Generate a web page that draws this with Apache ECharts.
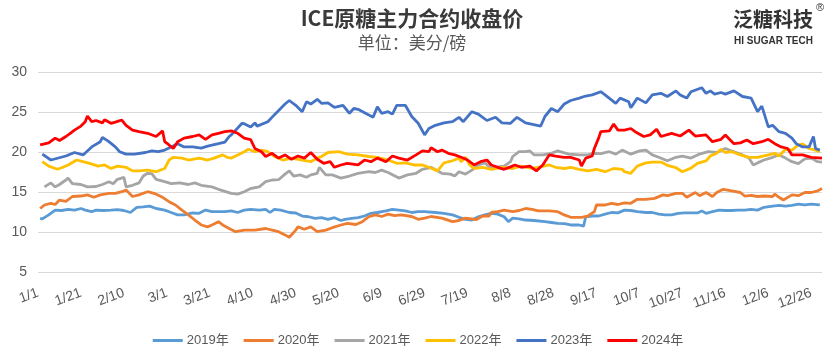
<!DOCTYPE html>
<html>
<head>
<meta charset="utf-8">
<script src="https://cdn.jsdelivr.net/npm/echarts@6/dist/echarts.min.js"></script>
<style>
html,body{margin:0;padding:0;background:#fff;}
#main{width:836px;height:364px;}
</style>
</head>
<body>
<div id="main"></div>
<script>
// x tick labels (every 20 days, leap-year calendar)
const tickLabels = ['1/1','1/21','2/10','3/1','3/21','4/10','4/30','5/20','6/9','6/29','7/19','8/8','8/28','9/17','10/7','10/27','11/16','12/6','12/26'];
const seriesNames = ['2019年','2020年','2021年','2022年','2023年','2024年'];

// day-of-year index / value pairs
const d19 = [1,2,5,8,11,14,17,20,22,25,27,30,34,37,40,43,46,49,52,55,59,62,65,68,72,75,78,81,84,87,90,93,96,99,103,106,108,110,113,117,120,123,126,129,132,135,138,141,143,146,149,152,155,158,162,165,168,171,174,177,180,185,189,193,196,199,202,205,208,211,214,217,219,221,224,227,231,236,239,242,245,248,252,254,255,258,261,264,267,270,273,276,279,283,286,289,292,295,298,301,304,307,309,311,314,317,320,323,326,329,332,335,338,342,345,348,351,354,357,360,364];
const v19 = [11.77,11.7,12.2,12.8,12.75,12.9,12.8,13.0,12.8,12.6,12.8,12.75,12.8,12.85,12.75,12.5,13.15,13.2,13.3,13.0,12.8,12.5,12.2,12.2,12.44,12.4,12.8,12.6,12.6,12.6,12.7,12.5,12.8,12.9,12.8,12.9,12.5,12.9,12.8,12.5,12.44,12.06,11.97,11.77,11.85,11.65,11.85,11.5,11.65,11.77,11.85,12.06,12.4,12.5,12.7,12.9,12.8,12.7,12.5,12.6,12.6,12.5,12.4,12.2,11.9,11.65,11.56,11.97,12.2,12.4,12.3,11.97,11.35,11.8,11.7,11.56,11.5,11.35,11.25,11.15,11.1,10.94,10.94,10.8,11.97,12.06,12.06,12.3,12.5,12.45,12.8,12.75,12.6,12.5,12.5,12.3,12.2,12.2,12.4,12.45,12.45,12.45,12.7,12.4,12.6,12.8,12.75,12.75,12.8,12.8,12.9,12.8,13.15,13.3,13.4,13.3,13.4,13.56,13.44,13.56,13.44];

const d20 = [1,3,6,8,10,13,16,20,23,26,29,33,36,39,41,44,47,51,54,58,61,64,67,70,73,76,79,81,84,86,89,92,96,101,106,109,112,115,117,120,121,124,127,130,134,137,141,144,148,151,154,157,160,163,166,169,174,177,180,183,188,193,196,199,202,204,207,210,211,214,217,221,224,227,230,233,238,242,245,248,253,256,259,260,264,267,270,273,276,279,283,287,291,293,297,300,302,306,308,311,314,316,319,323,327,329,332,335,338,342,343,345,347,351,354,357,360,363,365];
const v20 = [13.0,13.44,13.65,13.5,14.06,13.9,14.5,14.56,14.7,14.4,14.7,14.9,14.9,15.1,15.3,14.5,14.7,15.1,14.9,14.4,13.85,13.44,12.8,12.2,11.56,10.94,10.7,10.94,11.35,10.94,10.5,10.1,10.3,10.3,10.5,10.3,10.1,9.7,9.4,10.3,10.7,10.4,10.7,10.1,10.3,10.6,10.94,11.15,11.0,11.35,11.97,12.2,12.0,12.3,12.1,12.2,12.0,11.65,11.8,12.0,11.8,11.35,11.5,11.8,11.7,11.6,12.06,12.06,12.5,12.6,12.8,12.6,12.75,13.0,12.9,12.7,12.7,12.6,12.2,11.9,11.9,12.06,12.6,13.44,13.44,13.65,13.5,13.7,13.65,14.15,14.15,14.27,14.7,14.6,14.9,14.9,14.4,15.0,14.6,15.0,14.5,15.0,15.4,15.2,15.0,14.56,14.65,14.5,14.56,14.5,14.8,14.4,14.06,14.7,14.6,15.0,15.0,15.2,15.5];

const d21 = [3,6,8,10,13,14,16,20,23,27,30,33,35,37,40,41,44,47,49,51,53,55,59,62,66,70,73,76,81,84,87,90,93,96,99,103,106,109,112,115,117,119,122,125,127,130,131,134,137,141,145,149,154,157,160,163,168,172,176,179,183,188,192,194,196,199,202,205,208,211,214,217,220,221,224,227,229,231,235,239,242,247,252,256,259,262,266,269,272,275,276,280,283,286,289,293,297,300,304,308,312,316,320,324,328,331,333,335,338,342,345,348,351,354,357,360,363,365];
const v21 = [15.7,16.2,15.7,16.0,16.56,16.8,16.1,16.0,15.7,15.75,16.0,16.35,16.1,16.65,16.9,15.7,15.9,16.2,17.06,17.4,17.35,16.65,16.35,16.1,16.2,16.0,16.2,15.9,15.7,15.4,15.15,14.9,14.8,15.1,15.5,15.7,16.35,16.56,16.6,17.3,17.7,17.06,17.2,16.9,17.2,17.4,18.15,17.2,17.2,16.8,17.06,17.4,17.6,17.5,17.8,17.5,16.8,17.2,17.4,17.9,18.15,17.4,17.3,17.06,17.6,17.3,17.8,18.44,18.7,18.0,18.2,18.3,18.85,19.5,20.1,20.1,20.2,19.7,19.7,19.9,20.2,19.8,19.7,19.7,19.9,19.85,20.1,19.8,20.3,19.9,19.8,20.2,20.3,19.7,19.4,18.97,19.4,19.56,19.3,19.8,20.1,20.0,20.5,20.1,19.7,19.3,18.44,18.7,19.06,19.4,19.7,19.3,18.85,18.6,19.2,19.3,18.85,18.8];

const d22 = [2,5,9,11,14,18,21,24,28,31,34,37,41,44,47,51,55,59,61,63,67,70,75,79,82,86,88,90,93,96,98,101,104,107,110,114,118,123,127,130,132,135,140,144,149,154,158,163,167,171,175,179,182,186,189,193,196,197,199,201,203,207,211,216,221,225,230,234,238,241,245,248,252,256,260,264,268,272,273,276,279,283,286,290,293,297,300,304,307,311,313,316,318,320,323,327,331,335,340,343,345,348,351,354,356,359,362,364];
const v22 = [18.85,18.3,17.9,18.1,18.44,19.06,18.85,18.65,18.3,18.44,18.0,18.3,18.15,17.7,17.7,17.8,17.6,18.0,19.06,19.4,19.3,19.06,19.3,19.06,19.3,19.7,19.4,19.3,19.7,20.1,20.4,20.1,20.3,20.1,19.5,19.06,19.3,19.06,18.85,19.3,19.5,20.0,20.1,19.8,19.7,19.5,19.4,19.06,18.65,18.7,18.44,18.44,18.15,17.7,18.7,18.97,19.3,18.85,19.4,18.44,18.0,18.15,17.9,18.15,18.0,18.3,18.0,18.2,18.44,18.15,18.0,18.15,17.9,17.7,17.9,17.6,18.0,17.9,17.6,17.4,18.3,18.7,18.8,18.8,18.4,18.1,17.6,18.05,18.65,18.95,19.56,19.9,20.4,20.0,20.1,19.7,19.4,19.4,19.7,19.9,19.56,20.4,20.3,20.94,21.06,20.5,20.3,20.1];

const d23 = [2,6,13,17,21,25,29,30,33,36,38,41,45,50,53,56,59,62,65,68,72,76,79,84,87,89,90,95,96,99,101,102,107,110,115,117,120,123,125,127,130,132,135,138,142,145,147,149,154,156,158,160,163,165,167,171,174,177,180,182,185,189,193,196,198,202,205,209,213,216,220,223,227,234,236,239,242,245,248,252,255,258,262,264,269,271,275,276,279,283,286,290,293,297,299,302,304,309,311,313,315,318,320,324,328,332,335,337,340,342,345,348,351,353,356,359,361,362,364];
const v23 = [19.8,19.06,19.56,20.0,19.7,20.7,21.35,21.9,21.35,20.7,20.1,19.8,19.8,20.0,20.2,20.1,20.3,20.7,21.1,20.7,20.7,20.55,20.8,21.1,21.3,22.0,22.2,23.65,23.6,23.2,23.7,23.3,23.85,24.7,26.06,26.5,25.9,25.1,26.35,26.06,26.65,26.15,26.2,25.65,25.9,24.9,25.5,25.4,24.7,24.4,25.7,24.9,25.1,24.8,25.9,25.9,24.5,23.65,22.2,23.0,23.4,23.7,23.85,24.4,23.85,25.1,24.8,24.0,24.4,23.7,23.65,24.4,23.7,23.3,24.5,25.5,25.1,26.06,26.5,26.8,27.06,27.2,27.6,27.2,26.15,26.8,26.35,25.6,26.8,26.2,27.2,27.4,27.0,27.7,27.2,26.8,27.6,28.1,27.4,27.7,27.3,27.5,27.3,27.7,27.0,26.8,25.1,25.8,23.2,23.4,22.6,22.4,21.8,21.1,20.7,20.7,22.0,20.5,20.3];

const d24 = [1,5,8,10,13,15,17,20,22,23,25,27,30,31,34,36,39,41,44,47,51,55,58,59,61,63,65,68,72,75,78,81,84,87,90,93,96,99,101,104,106,109,112,115,118,121,124,127,130,133,136,138,141,144,149,152,155,158,162,165,168,172,176,179,182,183,186,188,191,194,197,200,203,206,209,211,214,217,220,222,225,229,232,235,238,241,245,248,252,253,255,258,259,261,262,266,268,270,273,276,278,282,285,288,290,295,299,303,306,311,314,318,320,324,327,330,333,337,340,343,346,349,351,356,360,365];
const v24 = [20.94,21.2,21.8,21.5,22.0,22.4,22.8,23.3,23.85,24.56,23.85,24.0,23.7,24.1,23.65,23.8,24.06,23.4,22.8,22.6,22.4,22.0,22.7,21.35,20.94,20.5,21.35,21.8,22.0,22.2,21.65,22.2,22.4,22.6,22.7,22.4,21.8,21.6,20.5,20.1,19.5,19.9,19.3,19.7,19.15,19.56,19.3,20.0,19.15,18.65,18.85,18.15,18.44,18.65,18.44,19.06,18.85,19.3,18.85,19.56,19.3,19.06,19.7,20.2,20.1,20.6,20.1,20.3,19.9,19.7,19.4,19.06,18.44,18.85,19.06,18.44,18.15,17.9,18.2,18.44,18.15,18.3,17.7,18.44,19.7,19.56,19.4,19.4,19.06,18.3,19.3,19.56,20.5,21.8,22.6,22.7,23.56,22.8,22.8,23.0,22.6,22.0,22.2,22.9,22.0,22.4,22.06,22.8,22.06,22.2,21.35,21.65,22.2,21.1,21.2,21.56,21.1,21.35,21.65,21.1,20.7,20.5,19.7,19.7,19.4,19.3];

const seriesColors = ['#5B9BD5','#ED7D31','#A5A5A5','#FFC000','#4472C4','#FF0000'];
const dayArrays = [d19,d20,d21,d22,d23,d24];
const valArrays = [v19,v20,v21,v22,v23,v24];

const chart = echarts.init(document.getElementById('main'));
const numFont = '"Liberation Sans", "Noto Sans CJK SC", sans-serif';

chart.setOption({
  animation: false,
  backgroundColor: '#ffffff',
  grid: { left: 38, right: 14, top: 72.5, bottom: 91.5, containLabel: false },
  legend: {
    data: seriesNames,
    left: 'center',
    top: 329,
    itemWidth: 30,
    itemHeight: 3,
    itemGap: 15,
    icon: 'rect',
    textStyle: { color: '#595959', fontSize: 13, fontFamily: numFont, padding: [0,0,0,-1] }
  },
  xAxis: {
    type: 'value',
    min: 0, max: 365, interval: 20,
    axisLine: { show: false },
    axisTick: { show: false },
    splitLine: { show: false },
    axisLabel: {
      rotate: 20,
      margin: 20,
      color: '#595959',
      fontSize: 14,
      fontFamily: numFont,
      showMaxLabel: false,
      formatter: function (v) { return v % 20 === 0 ? (tickLabels[v / 20] || '') : ''; }
    }
  },
  yAxis: {
    type: 'value',
    min: 5, max: 30, interval: 5,
    axisLine: { show: false },
    axisTick: { show: false },
    splitLine: { lineStyle: { color: '#D9D9D9', width: 1 } },
    axisLabel: { color: '#595959', fontSize: 14, fontFamily: numFont, margin: 11 }
  },
  graphic: [
    { type: 'text', style: { text: 'ICE原糖主力合约收盘价', fill: '#3a3a3a', font: 'bold 21px "Noto Sans CJK SC", sans-serif', x: 412, y: 8, align: 'center', verticalAlign: 'top' }, z: 10 },
    { type: 'text', style: { text: '单位：美分/磅', fill: '#595959', font: '17px "Noto Sans CJK SC", sans-serif', x: 412, y: 34, align: 'center', verticalAlign: 'top' }, z: 10 },
    { type: 'text', style: { text: '泛糖科技', fill: '#333333', font: 'bold 20px "Noto Sans CJK SC", sans-serif', x: 733, y: 9, align: 'left', verticalAlign: 'top' }, z: 10 },
    { type: 'text', style: { text: '®', fill: '#333333', font: '11px "Liberation Sans", sans-serif', x: 816, y: 2, align: 'left', verticalAlign: 'top' }, z: 10 },
    { type: 'text', style: { text: 'HI SUGAR TECH', fill: '#333333', font: 'bold 10px "Liberation Sans", sans-serif', x: 734, y: 36, align: 'left', verticalAlign: 'top' }, z: 10 }
  ],
  series: seriesNames.map(function (name, k) {
    return {
      name: name,
      type: 'line',
      showSymbol: false,
      symbol: 'none',
      connectNulls: true,
      color: seriesColors[k],
      lineStyle: { width: 2.8, color: seriesColors[k] },
      data: dayArrays[k].map(function (d, i) { return [d, valArrays[k][i]]; })
    };
  })
});
</script>
</body>
</html>
